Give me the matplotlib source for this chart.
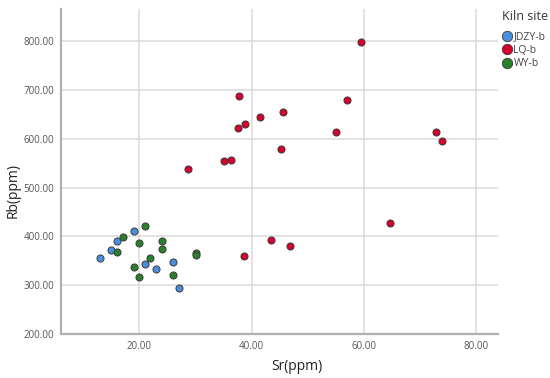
import matplotlib
matplotlib.use("Agg")
import matplotlib.pyplot as plt
from matplotlib.lines import Line2D

# Sr (x) / Rb (y) values in ppm
jdzy_sr = [13.0, 15.0, 16.0, 19.0, 21.0, 23.0, 26.0, 27.1]
jdzy_rb = [356, 372, 391, 412, 343, 333, 348, 294]

lq_sr = [28.7, 35.1, 36.4, 37.5, 37.7, 38.8, 41.5, 45.2, 45.6, 59.5, 57.0, 55.1,
         72.8, 73.8, 64.6, 43.5, 46.8, 38.6]
lq_rb = [538, 554, 556, 622, 687, 630, 644, 578, 655, 798, 680, 613,
         613, 595, 427, 393, 380, 359]

wy_sr = [17.1, 16.0, 21.0, 20.0, 24.0, 24.0, 22.0, 19.0, 20.0, 26.0, 30.1, 30.1]
wy_rb = [399, 368, 421, 387, 391, 374, 356, 337, 316, 320, 365, 361]

site_names = ["JDZY-b", "LQ-b", "WY-b"]
site_colors = ["#4a8fdc", "#d8002c", "#2a7f2a"]

x_ticks = [20, 40, 60, 80]
y_ticks = [200, 300, 400, 500, 600, 700, 800]

plt.rcParams["font.family"] = ["Open Sans", "DejaVu Sans"]

fig = plt.figure(figsize=(5.5, 3.78), dpi=100)
ax = fig.add_axes([0.111, 0.1164, 0.794, 0.86])

series = [(jdzy_sr, jdzy_rb), (lq_sr, lq_rb), (wy_sr, wy_rb)]
for (xs, ys), color in zip(series, site_colors):
    ax.scatter(xs, ys, s=26, color=color, edgecolors="#3a3a3a", linewidths=0.7, zorder=3)

ax.set_xlim(6.1, 83.8)
ax.set_ylim(200, 866)
ax.set_xticks(x_ticks)
ax.set_yticks(y_ticks)
ax.set_xticklabels([f"{v:.2f}" for v in x_ticks])
ax.set_yticklabels([f"{v:.2f}" for v in y_ticks])
ax.tick_params(length=0, labelsize=7, colors="#555555", pad=5)
ax.grid(color="#dadada", linewidth=1.1)
ax.set_axisbelow(True)

for side in ["top", "right"]:
    ax.spines[side].set_visible(False)
for side in ["left", "bottom"]:
    ax.spines[side].set_color("#b0b0b0")
    ax.spines[side].set_linewidth(1.6)

# axis titles placed where the reference has them
fig.text(0.539, 0.030, "Sr(ppm)", fontsize=10, color="#222222", ha="center", va="center")
fig.text(0.024, 0.497, "Rb(ppm)", fontsize=10, color="#222222", ha="center", va="center",
         rotation=90)

handles = [
    Line2D([], [], marker="o", linestyle="", markersize=7.5, markerfacecolor=c,
           markeredgecolor="#3a3a3a", markeredgewidth=0.6, label=n)
    for n, c in zip(site_names, site_colors)
]
leg = fig.legend(handles=handles, title="Kiln site", loc="upper left",
                 bbox_to_anchor=(0.905, 0.985), frameon=False, fontsize=7.5,
                 title_fontsize=9, handletextpad=0.2, labelspacing=0.25,
                 borderaxespad=0, handlelength=0.9)
leg._legend_box.align = "left"
leg._legend_box.sep = 6
for t in leg.get_texts():
    t.set_color("#444444")
leg.get_title().set_color("#333333")

fig.savefig("out.png", dpi=100)
